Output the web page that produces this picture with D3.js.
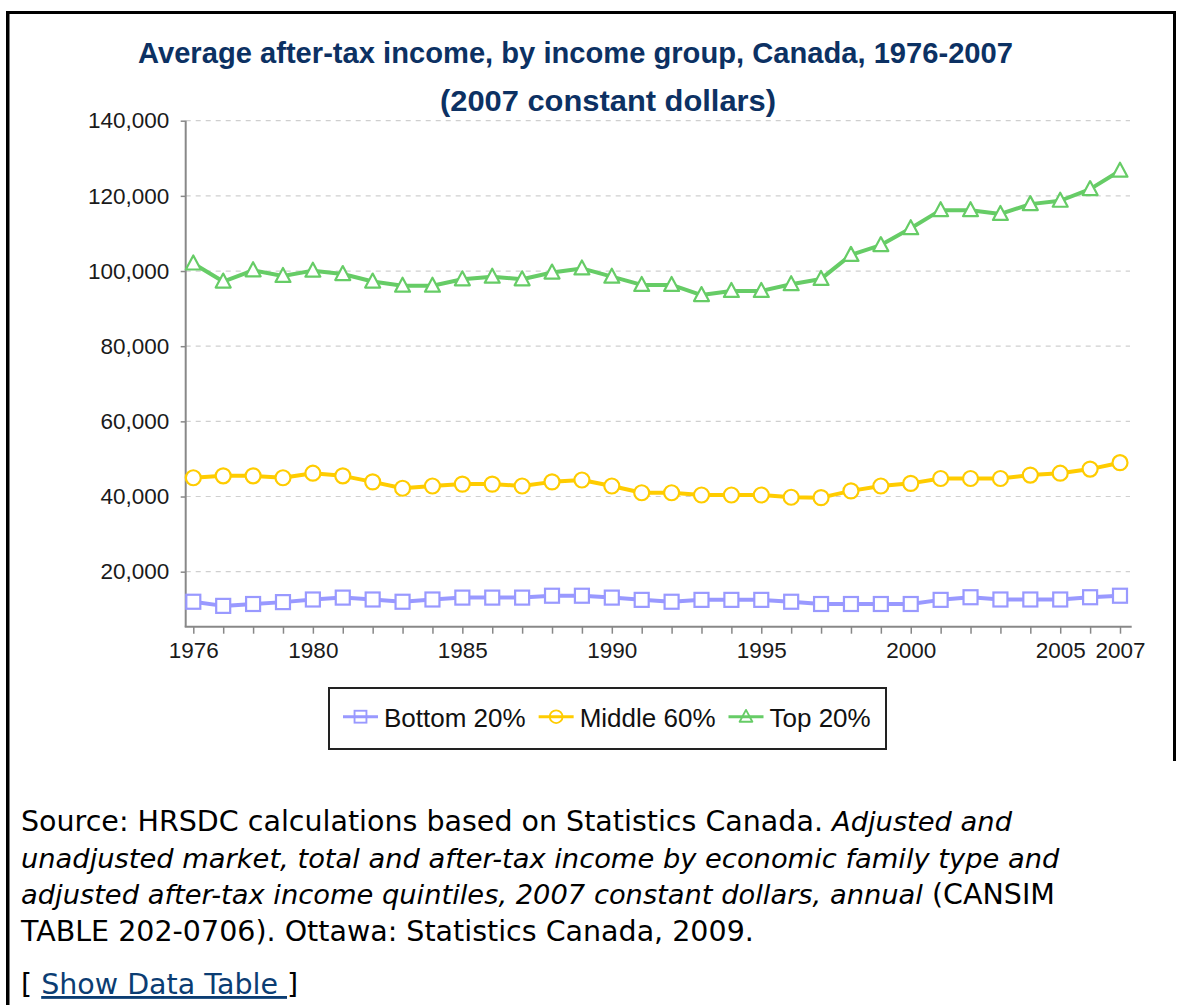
<!DOCTYPE html>
<html>
<head>
<meta charset="utf-8">
<script src="https://cdn.jsdelivr.net/npm/d3@7"></script>
<style>
    html, body { margin: 0; padding: 0; background: #fff; }
    svg { display: block; }
</style>
</head>
<body>
<svg id="chart" width="1180" height="1005"></svg>
<script>
// data (2007 constant dollars)
const years = [1976, 1977, 1978, 1979, 1980, 1981, 1982, 1983, 1984, 1985, 1986, 1987, 1988, 1989, 1990, 1991,
    1992, 1993, 1994, 1995, 1996, 1997, 1998, 1999, 2000, 2001, 2002, 2003, 2004, 2005, 2006, 2007];
const labeledYears = [1976, 1980, 1985, 1990, 1995, 2000, 2005, 2007];
const yTicks = [20000, 40000, 60000, 80000, 100000, 120000, 140000];

const bottom20 = [12000, 10900, 11400, 11900, 12600, 13100, 12600, 12000, 12600, 13100, 13100, 13100, 13600, 13600, 13100, 12500,
    12000, 12500, 12500, 12500, 12000, 11400, 11400, 11400, 11400, 12500, 13200, 12600, 12600, 12600, 13200, 13600];
const middle60 = [45000, 45500, 45500, 45000, 46200, 45500, 43900, 42200, 42800, 43300, 43300, 42800, 43900, 44400, 42800, 41000,
    41000, 40400, 40400, 40400, 39800, 39700, 41500, 42800, 43500, 44800, 44800, 44800, 45700, 46200, 47300, 49000];
const top20 = [102000, 97200, 100200, 98700, 100100, 99200, 97200, 96100, 96100, 97800, 98500, 97800, 99600, 100700, 98500, 96300,
    96300, 93600, 94700, 94700, 96500, 97900, 104300, 106900, 111400, 116200, 116200, 115200, 117800, 118700, 121800, 126700];

const seriesNames = ['Bottom 20%', 'Middle 60%', 'Top 20%'];
const seriesValues = [bottom20, middle60, top20];
const seriesColors = ['#9999ff', '#ffcc00', '#66cc66'];
const seriesMarkers = ['square', 'circle', 'triangle'];

const titleLines = ['Average after-tax income, by income group, Canada, 1976-2007', '(2007 constant dollars)'];

const svg = d3.select('#chart');
const axisFont = '"Liberation Sans", Arial, sans-serif';
const textFont = 'Verdana, "DejaVu Sans", sans-serif';

// frame around the figure
svg.append('rect').attr('x', 6).attr('y', 11).attr('width', 3.5).attr('height', 994).attr('fill', '#000');
svg.append('rect').attr('x', 6).attr('y', 11).attr('width', 1170).attr('height', 3).attr('fill', '#000');
svg.append('rect').attr('x', 1173).attr('y', 11).attr('width', 3).attr('height', 750).attr('fill', '#000');

// title
svg.append('text')
    .attr('x', 138).attr('y', 63)
    .attr('textLength', 875).attr('lengthAdjust', 'spacingAndGlyphs')
    .attr('font-family', axisFont).attr('font-weight', 'bold').attr('font-size', 29.5)
    .attr('fill', '#0c3163')
    .text(titleLines[0]);
svg.append('text')
    .attr('x', 440).attr('y', 111)
    .attr('textLength', 336).attr('lengthAdjust', 'spacingAndGlyphs')
    .attr('font-family', axisFont).attr('font-weight', 'bold').attr('font-size', 30)
    .attr('fill', '#0c3163')
    .text(titleLines[1]);

// scales
const yMin = 5360;
const x = d3.scaleLinear().domain([years[0], years[years.length - 1]]).range([193.3, 1120]);
const y = d3.scaleLinear().domain([yMin, 140000]).range([626.7, 120.7]);
const axisX0 = 185.7, axisX1 = 1131.7;

// grid
svg.append('g')
    .selectAll('line')
    .data(yTicks)
    .join('line')
    .attr('x1', axisX0).attr('x2', 1130)
    .attr('y1', d => y(d)).attr('y2', d => y(d))
    .attr('stroke', '#cfcfcf').attr('stroke-width', 1.2)
    .attr('stroke-dasharray', '5,5');

// y axis
const gy = svg.append('g')
    .attr('transform', `translate(${axisX0},0)`)
    .call(d3.axisLeft(y).tickValues(yTicks).tickFormat(d3.format(',')).tickSize(5).tickPadding(11.4));
gy.select('.domain').remove();
gy.append('line').attr('x1', 0).attr('x2', 0).attr('y1', y(140000)).attr('y2', y(yMin))
    .attr('stroke', '#888').attr('stroke-width', 2);

// x axis
const gx = svg.append('g')
    .attr('transform', `translate(0,${y(yMin)})`)
    .call(d3.axisBottom(x).tickValues(years)
        .tickFormat(d => labeledYears.includes(d) ? d : '')
        .tickSize(7).tickPadding(8.3));
gx.select('.domain').remove();
gx.append('line').attr('x1', axisX0 - 1).attr('x2', axisX1).attr('y1', 0).attr('y2', 0)
    .attr('stroke', '#888').attr('stroke-width', 2);

svg.selectAll('.tick line').attr('stroke', '#888').attr('stroke-width', 1.5);
svg.selectAll('.tick text')
    .attr('font-family', axisFont).attr('font-size', 22.5).attr('fill', '#1a1a1a');

// markers
function drawMarker(g, type, color) {
    if (type === 'square') {
        g.append('rect').attr('x', -7).attr('y', -7).attr('width', 14).attr('height', 14)
            .attr('fill', '#fff').attr('stroke', color).attr('stroke-width', 2.2);
    } else if (type === 'circle') {
        g.append('circle').attr('r', 7.5)
            .attr('fill', '#fff').attr('stroke', color).attr('stroke-width', 2.2);
    } else {
        g.append('path').attr('d', 'M0,-8L7.5,6L-7.5,6Z')
            .attr('fill', '#fff').attr('stroke', color).attr('stroke-width', 2.2)
            .attr('stroke-linejoin', 'round');
    }
}

const line = d3.line()
    .x((d, i) => x(years[i]))
    .y(d => y(d));

seriesValues.forEach((vals, s) => {
    const g = svg.append('g');
    g.append('path')
        .attr('d', line(vals))
        .attr('fill', 'none')
        .attr('stroke', seriesColors[s])
        .attr('stroke-width', 4)
        .attr('stroke-linejoin', 'round');

    g.selectAll('g.pt')
        .data(vals)
        .join('g')
        .attr('class', 'pt')
        .attr('transform', (d, i) => `translate(${x(years[i])},${y(d)})`)
        .each(function () { drawMarker(d3.select(this), seriesMarkers[s], seriesColors[s]); });
});

// legend
const legend = svg.append('g');
legend.append('rect')
    .attr('x', 329).attr('y', 688).attr('width', 557).attr('height', 61)
    .attr('fill', '#fff').attr('stroke', '#222').attr('stroke-width', 2);

let lx = 343;
const legendY = 716.7;
seriesNames.forEach((name, s) => {
    const item = legend.append('g');
    item.append('line')
        .attr('x1', lx).attr('x2', lx + 35)
        .attr('y1', legendY).attr('y2', legendY)
        .attr('stroke', seriesColors[s]).attr('stroke-width', 3);
    const m = item.append('g').attr('transform', `translate(${lx + 17.5},${legendY})`);
    drawMarker(m, seriesMarkers[s], seriesColors[s]);
    m.selectAll('*').attr('fill', 'none').attr('transform', 'scale(0.85)');
    const t = item.append('text')
        .attr('x', lx + 41).attr('y', 726.7)
        .attr('font-family', axisFont).attr('font-size', 26).attr('fill', '#111')
        .text(name);
    lx = lx + 41 + t.node().getComputedTextLength() + 13;
});

// source note
const note = svg.append('g')
    .attr('font-family', textFont).attr('fill', '#000');

const noteLines = [
    [['Source: HRSDC calculations based on Statistics Canada. ', false], ['Adjusted and', true]],
    [['unadjusted market, total and after-tax income by economic family type and', true]],
    [['adjusted after-tax income quintiles, 2007 constant dollars, annual', true], [' (CANSIM', false]],
    [['TABLE 202-0706). Ottawa: Statistics Canada, 2009.', false]]
];

noteLines.forEach((parts, i) => {
    const t = note.append('text').attr('x', 21).attr('y', 831 + i * 36.5).attr('xml:space', 'preserve');
    parts.forEach(p => {
        t.append('tspan')
            .attr('font-style', p[1] ? 'italic' : 'normal')
            .attr('font-size', p[1] ? 27.3 : 28.5)
            .text(p[0]);
    });
});

const link = note.append('text').attr('x', 21).attr('y', 994).attr('font-size', 28.5).attr('xml:space', 'preserve');
link.append('tspan').text('[ ');
link.append('tspan').attr('fill', '#0b3d73').attr('text-decoration', 'underline').text('Show Data Table ');
link.append('tspan').text(']');
</script>
</body>
</html>
